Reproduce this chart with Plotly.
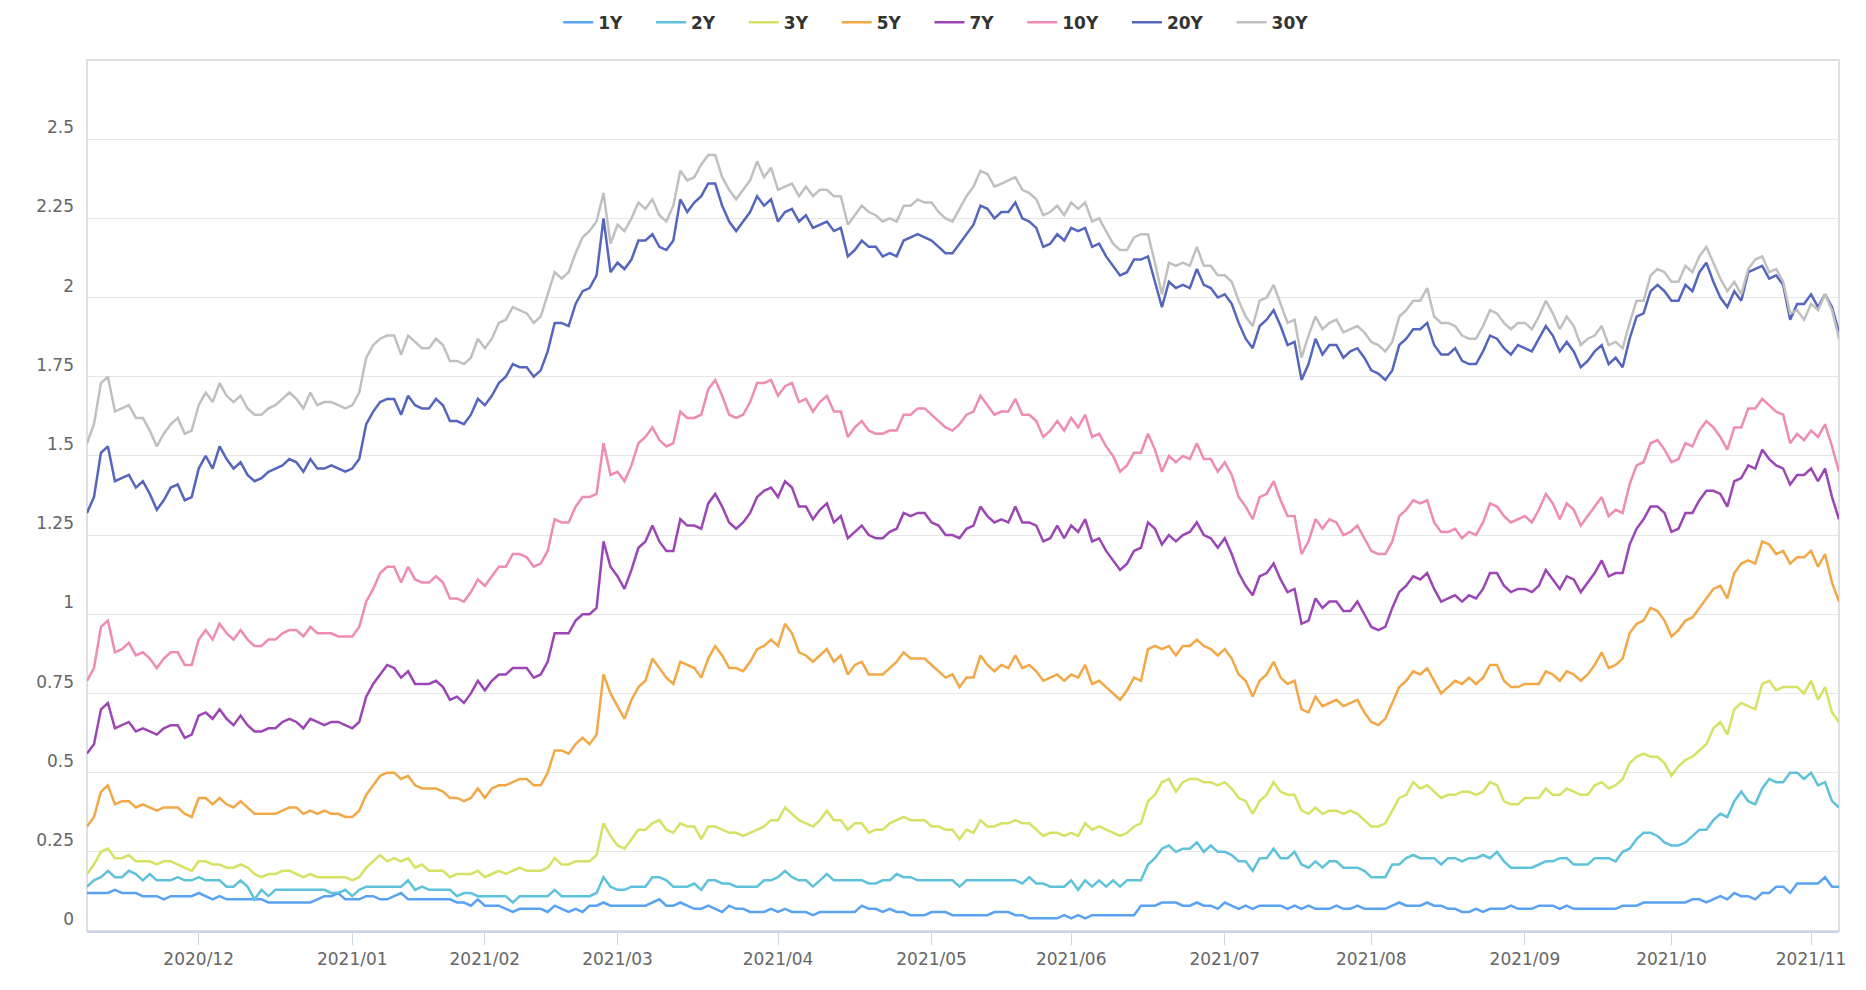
import pandas as pd
import plotly.graph_objects as go

# ---- categories: US trading days 2020-11-05 .. 2021-11-05 ----
start_date = "2020-11-05"
end_date = "2021-11-05"
holidays = ["2020-11-11", "2020-11-26", "2020-12-25", "2021-01-01", "2021-01-18",
            "2021-02-15", "2021-05-31", "2021-07-05", "2021-09-06", "2021-10-11"]
dates = [d.strftime("%Y-%m-%d") for d in pd.bdate_range(start_date, end_date)
         if d.strftime("%Y-%m-%d") not in holidays]

# ---- series values ----
y_1y = [
    0.12, 0.12, 0.12, 0.12, 0.13, 0.12, 0.12, 0.12, 0.11, 0.11,
    0.11, 0.10, 0.11, 0.11, 0.11, 0.11, 0.12, 0.11, 0.10, 0.11,
    0.10, 0.10, 0.10, 0.10, 0.10, 0.10, 0.09, 0.09, 0.09, 0.09,
    0.09, 0.09, 0.09, 0.10, 0.11, 0.11, 0.12, 0.10, 0.10, 0.10,
    0.11, 0.11, 0.10, 0.10, 0.11, 0.12, 0.10, 0.10, 0.10, 0.10,
    0.10, 0.10, 0.10, 0.09, 0.09, 0.08, 0.10, 0.08, 0.08, 0.08,
    0.07, 0.06, 0.07, 0.07, 0.07, 0.07, 0.06, 0.08, 0.07, 0.06,
    0.07, 0.06, 0.08, 0.08, 0.09, 0.08, 0.08, 0.08, 0.08, 0.08,
    0.08, 0.09, 0.10, 0.08, 0.08, 0.09, 0.08, 0.07, 0.07, 0.08,
    0.07, 0.06, 0.08, 0.07, 0.07, 0.06, 0.06, 0.06, 0.07, 0.06,
    0.07, 0.06, 0.06, 0.06, 0.05, 0.06, 0.06, 0.06, 0.06, 0.06,
    0.06, 0.08, 0.07, 0.07, 0.06, 0.07, 0.06, 0.06, 0.05, 0.05,
    0.05, 0.06, 0.06, 0.06, 0.05, 0.05, 0.05, 0.05, 0.05, 0.05,
    0.06, 0.06, 0.06, 0.05, 0.05, 0.04, 0.04, 0.04, 0.04, 0.04,
    0.05, 0.04, 0.05, 0.04, 0.05, 0.05, 0.05, 0.05, 0.05, 0.05,
    0.05, 0.08, 0.08, 0.08, 0.09, 0.09, 0.09, 0.08, 0.08, 0.09,
    0.08, 0.08, 0.07, 0.09, 0.08, 0.07, 0.08, 0.07, 0.08, 0.08,
    0.08, 0.08, 0.07, 0.08, 0.07, 0.08, 0.07, 0.07, 0.07, 0.08,
    0.07, 0.07, 0.08, 0.07, 0.07, 0.07, 0.07, 0.08, 0.09, 0.08,
    0.08, 0.08, 0.09, 0.08, 0.08, 0.07, 0.07, 0.06, 0.06, 0.07,
    0.06, 0.07, 0.07, 0.07, 0.08, 0.07, 0.07, 0.07, 0.08, 0.08,
    0.08, 0.07, 0.08, 0.07, 0.07, 0.07, 0.07, 0.07, 0.07, 0.07,
    0.08, 0.08, 0.08, 0.09, 0.09, 0.09, 0.09, 0.09, 0.09, 0.09,
    0.10, 0.10, 0.09, 0.10, 0.11, 0.10, 0.12, 0.11, 0.11, 0.10,
    0.12, 0.12, 0.14, 0.14, 0.12, 0.15, 0.15, 0.15, 0.15, 0.17,
    0.14, 0.14,
]
y_2y = [
    0.14, 0.16, 0.17, 0.19, 0.17, 0.17, 0.19, 0.18, 0.16, 0.18,
    0.16, 0.16, 0.16, 0.17, 0.16, 0.16, 0.17, 0.16, 0.16, 0.16,
    0.14, 0.14, 0.16, 0.14, 0.10, 0.13, 0.11, 0.13, 0.13, 0.13,
    0.13, 0.13, 0.13, 0.13, 0.13, 0.12, 0.12, 0.13, 0.11, 0.13,
    0.14, 0.14, 0.14, 0.14, 0.14, 0.14, 0.16, 0.13, 0.14, 0.13,
    0.13, 0.13, 0.13, 0.11, 0.12, 0.12, 0.11, 0.11, 0.11, 0.11,
    0.11, 0.09, 0.11, 0.11, 0.11, 0.11, 0.11, 0.13, 0.11, 0.11,
    0.11, 0.11, 0.11, 0.12, 0.17, 0.14, 0.13, 0.13, 0.14, 0.14,
    0.14, 0.17, 0.17, 0.16, 0.14, 0.14, 0.14, 0.15, 0.13, 0.16,
    0.16, 0.15, 0.15, 0.14, 0.14, 0.14, 0.14, 0.16, 0.16, 0.17,
    0.19, 0.17, 0.16, 0.16, 0.14, 0.16, 0.18, 0.16, 0.16, 0.16,
    0.16, 0.16, 0.15, 0.15, 0.16, 0.16, 0.18, 0.17, 0.17, 0.16,
    0.16, 0.16, 0.16, 0.16, 0.16, 0.14, 0.16, 0.16, 0.16, 0.16,
    0.16, 0.16, 0.16, 0.16, 0.15, 0.17, 0.15, 0.15, 0.14, 0.14,
    0.14, 0.16, 0.13, 0.16, 0.14, 0.16, 0.14, 0.16, 0.14, 0.16,
    0.16, 0.16, 0.21, 0.23, 0.26, 0.27, 0.25, 0.26, 0.26, 0.28,
    0.25, 0.27, 0.25, 0.25, 0.24, 0.22, 0.22, 0.19, 0.23, 0.23,
    0.26, 0.23, 0.23, 0.25, 0.21, 0.20, 0.22, 0.20, 0.22, 0.22,
    0.20, 0.20, 0.20, 0.19, 0.17, 0.17, 0.17, 0.21, 0.21, 0.23,
    0.24, 0.23, 0.23, 0.23, 0.21, 0.23, 0.23, 0.22, 0.23, 0.23,
    0.24, 0.23, 0.25, 0.22, 0.20, 0.20, 0.20, 0.20, 0.21, 0.22,
    0.22, 0.23, 0.23, 0.21, 0.21, 0.21, 0.23, 0.23, 0.23, 0.22,
    0.25, 0.26, 0.29, 0.31, 0.31, 0.30, 0.28, 0.27, 0.27, 0.28,
    0.30, 0.32, 0.32, 0.35, 0.37, 0.36, 0.41, 0.44, 0.41, 0.40,
    0.45, 0.48, 0.47, 0.47, 0.50, 0.50, 0.48, 0.50, 0.46, 0.47,
    0.41, 0.39,
]
y_3y = [
    0.18, 0.21, 0.25, 0.26, 0.23, 0.23, 0.24, 0.22, 0.22, 0.22,
    0.21, 0.22, 0.22, 0.21, 0.20, 0.19, 0.22, 0.22, 0.21, 0.21,
    0.20, 0.20, 0.21, 0.20, 0.18, 0.17, 0.18, 0.18, 0.19, 0.19,
    0.18, 0.17, 0.18, 0.17, 0.17, 0.17, 0.17, 0.17, 0.16, 0.17,
    0.20, 0.22, 0.24, 0.22, 0.23, 0.22, 0.23, 0.20, 0.21, 0.19,
    0.19, 0.19, 0.17, 0.18, 0.18, 0.18, 0.19, 0.17, 0.18, 0.19,
    0.18, 0.19, 0.20, 0.19, 0.19, 0.19, 0.20, 0.23, 0.21, 0.21,
    0.22, 0.22, 0.22, 0.24, 0.34, 0.30, 0.27, 0.26, 0.29, 0.32,
    0.32, 0.34, 0.35, 0.32, 0.31, 0.34, 0.33, 0.33, 0.29, 0.33,
    0.33, 0.32, 0.31, 0.31, 0.30, 0.31, 0.32, 0.33, 0.35, 0.35,
    0.39, 0.37, 0.35, 0.34, 0.33, 0.35, 0.38, 0.35, 0.35, 0.32,
    0.34, 0.34, 0.31, 0.32, 0.32, 0.34, 0.35, 0.36, 0.35, 0.35,
    0.35, 0.33, 0.33, 0.32, 0.32, 0.29, 0.32, 0.31, 0.35, 0.33,
    0.33, 0.34, 0.34, 0.35, 0.34, 0.34, 0.32, 0.30, 0.31, 0.31,
    0.30, 0.31, 0.30, 0.34, 0.32, 0.33, 0.32, 0.31, 0.30, 0.31,
    0.33, 0.34, 0.41, 0.43, 0.47, 0.48, 0.44, 0.47, 0.48, 0.48,
    0.47, 0.47, 0.46, 0.47, 0.45, 0.42, 0.41, 0.37, 0.41, 0.43,
    0.47, 0.44, 0.43, 0.43, 0.38, 0.37, 0.39, 0.37, 0.38, 0.38,
    0.37, 0.38, 0.37, 0.35, 0.33, 0.33, 0.34, 0.38, 0.42, 0.43,
    0.47, 0.45, 0.46, 0.44, 0.42, 0.43, 0.43, 0.44, 0.44, 0.43,
    0.44, 0.47, 0.46, 0.41, 0.40, 0.40, 0.42, 0.42, 0.42, 0.45,
    0.43, 0.43, 0.45, 0.44, 0.43, 0.43, 0.46, 0.47, 0.45, 0.46,
    0.48, 0.53, 0.55, 0.56, 0.55, 0.55, 0.53, 0.49, 0.52, 0.54,
    0.55, 0.57, 0.59, 0.64, 0.66, 0.62, 0.70, 0.72, 0.71, 0.70,
    0.78, 0.79, 0.76, 0.77, 0.77, 0.77, 0.75, 0.79, 0.73, 0.77,
    0.69, 0.66,
]
y_5y = [
    0.33, 0.36, 0.44, 0.46, 0.40, 0.41, 0.41, 0.39, 0.40, 0.39,
    0.38, 0.39, 0.39, 0.39, 0.37, 0.36, 0.42, 0.42, 0.40, 0.42,
    0.40, 0.39, 0.41, 0.39, 0.37, 0.37, 0.37, 0.37, 0.38, 0.39,
    0.39, 0.37, 0.38, 0.37, 0.38, 0.37, 0.37, 0.36, 0.36, 0.38,
    0.43, 0.46, 0.49, 0.50, 0.50, 0.48, 0.49, 0.46, 0.45, 0.45,
    0.45, 0.44, 0.42, 0.42, 0.41, 0.42, 0.45, 0.42, 0.45, 0.46,
    0.46, 0.47, 0.48, 0.48, 0.46, 0.46, 0.50, 0.57, 0.57, 0.56,
    0.59, 0.61, 0.59, 0.62, 0.81, 0.75, 0.71, 0.67, 0.73, 0.77,
    0.79, 0.86, 0.83, 0.80, 0.78, 0.85, 0.84, 0.83, 0.80, 0.86,
    0.90, 0.87, 0.83, 0.83, 0.82, 0.85, 0.89, 0.90, 0.92, 0.90,
    0.97, 0.94, 0.88, 0.87, 0.85, 0.87, 0.89, 0.85, 0.87, 0.81,
    0.84, 0.85, 0.81, 0.81, 0.81, 0.83, 0.85, 0.88, 0.86, 0.86,
    0.86, 0.84, 0.82, 0.80, 0.81, 0.77, 0.80, 0.80, 0.87, 0.84,
    0.82, 0.84, 0.83, 0.87, 0.83, 0.84, 0.82, 0.79, 0.80, 0.81,
    0.79, 0.81, 0.80, 0.84, 0.78, 0.79, 0.77, 0.75, 0.73, 0.76,
    0.80, 0.79, 0.89, 0.90, 0.89, 0.90, 0.87, 0.90, 0.90, 0.92,
    0.90, 0.89, 0.87, 0.89, 0.86, 0.81, 0.79, 0.74, 0.79, 0.81,
    0.85, 0.80, 0.78, 0.79, 0.70, 0.69, 0.74, 0.71, 0.72, 0.73,
    0.71, 0.72, 0.73, 0.69, 0.66, 0.65, 0.67, 0.72, 0.77, 0.79,
    0.82, 0.81, 0.83, 0.79, 0.75, 0.77, 0.79, 0.78, 0.80, 0.78,
    0.80, 0.84, 0.84, 0.79, 0.77, 0.77, 0.78, 0.78, 0.78, 0.82,
    0.81, 0.79, 0.82, 0.81, 0.79, 0.81, 0.84, 0.88, 0.83, 0.84,
    0.86, 0.94, 0.97, 0.98, 1.02, 1.01, 0.98, 0.93, 0.95, 0.98,
    0.99, 1.02, 1.05, 1.08, 1.09, 1.05, 1.13, 1.16, 1.17, 1.16,
    1.23, 1.22, 1.19, 1.20, 1.16, 1.18, 1.18, 1.20, 1.15, 1.19,
    1.10, 1.04,
]
y_7y = [
    0.56, 0.59, 0.70, 0.72, 0.64, 0.65, 0.66, 0.63, 0.64, 0.63,
    0.62, 0.64, 0.65, 0.65, 0.61, 0.62, 0.68, 0.69, 0.67, 0.70,
    0.67, 0.65, 0.68, 0.65, 0.63, 0.63, 0.64, 0.64, 0.66, 0.67,
    0.66, 0.64, 0.67, 0.66, 0.65, 0.66, 0.66, 0.65, 0.64, 0.66,
    0.74, 0.78, 0.81, 0.84, 0.83, 0.80, 0.82, 0.78, 0.78, 0.78,
    0.79, 0.77, 0.73, 0.74, 0.72, 0.75, 0.79, 0.76, 0.79, 0.81,
    0.81, 0.83, 0.83, 0.83, 0.80, 0.81, 0.85, 0.94, 0.94, 0.94,
    0.98, 1.00, 1.00, 1.02, 1.23, 1.15, 1.12, 1.08, 1.14, 1.21,
    1.23, 1.28, 1.23, 1.20, 1.20, 1.30, 1.28, 1.28, 1.27, 1.35,
    1.38, 1.34, 1.29, 1.27, 1.29, 1.32, 1.37, 1.39, 1.40, 1.37,
    1.42, 1.40, 1.34, 1.34, 1.30, 1.33, 1.35, 1.29, 1.31, 1.24,
    1.26, 1.28, 1.25, 1.24, 1.24, 1.26, 1.27, 1.32, 1.31, 1.32,
    1.32, 1.29, 1.28, 1.25, 1.25, 1.24, 1.27, 1.28, 1.34, 1.31,
    1.29, 1.30, 1.29, 1.34, 1.29, 1.29, 1.28, 1.23, 1.24, 1.28,
    1.24, 1.28, 1.26, 1.30, 1.23, 1.24, 1.20, 1.17, 1.14, 1.16,
    1.20, 1.21, 1.29, 1.27, 1.22, 1.25, 1.23, 1.25, 1.26, 1.29,
    1.25, 1.24, 1.21, 1.24, 1.19, 1.13, 1.09, 1.06, 1.12, 1.13,
    1.16, 1.11, 1.07, 1.08, 0.97, 0.98, 1.05, 1.02, 1.04, 1.04,
    1.01, 1.01, 1.04, 1.00, 0.96, 0.95, 0.96, 1.02, 1.07, 1.09,
    1.12, 1.11, 1.13, 1.08, 1.04, 1.05, 1.06, 1.04, 1.06, 1.05,
    1.08, 1.13, 1.13, 1.09, 1.07, 1.08, 1.08, 1.07, 1.09, 1.14,
    1.11, 1.08, 1.12, 1.11, 1.07, 1.10, 1.13, 1.17, 1.12, 1.13,
    1.13, 1.22, 1.27, 1.30, 1.34, 1.34, 1.32, 1.26, 1.27, 1.32,
    1.32, 1.36, 1.39, 1.39, 1.38, 1.34, 1.42, 1.43, 1.47, 1.46,
    1.52, 1.49, 1.47, 1.46, 1.41, 1.44, 1.44, 1.46, 1.42, 1.46,
    1.37, 1.30,
]
y_10y = [
    0.79, 0.83, 0.96, 0.98, 0.88, 0.89, 0.91, 0.87, 0.88, 0.86,
    0.83, 0.86, 0.88, 0.88, 0.84, 0.84, 0.92, 0.95, 0.92, 0.97,
    0.94, 0.92, 0.95, 0.92, 0.90, 0.90, 0.92, 0.92, 0.94, 0.95,
    0.95, 0.93, 0.96, 0.94, 0.94, 0.94, 0.93, 0.93, 0.93, 0.96,
    1.04, 1.08, 1.13, 1.15, 1.15, 1.10, 1.15, 1.11, 1.10, 1.10,
    1.12, 1.10, 1.05, 1.05, 1.04, 1.07, 1.11, 1.09, 1.12, 1.15,
    1.15, 1.19, 1.19, 1.18, 1.15, 1.16, 1.20, 1.30, 1.29, 1.29,
    1.34, 1.37, 1.37, 1.38, 1.54, 1.44, 1.45, 1.42, 1.47, 1.54,
    1.56, 1.59, 1.55, 1.53, 1.54, 1.64, 1.62, 1.62, 1.63, 1.71,
    1.74, 1.69, 1.63, 1.62, 1.63, 1.67, 1.73, 1.73, 1.74, 1.69,
    1.72, 1.73, 1.67, 1.68, 1.64, 1.67, 1.69, 1.64, 1.64, 1.56,
    1.59, 1.61, 1.58, 1.57, 1.57, 1.58, 1.58, 1.63, 1.63, 1.65,
    1.65, 1.63, 1.61, 1.59, 1.58, 1.60, 1.63, 1.64, 1.69, 1.66,
    1.63, 1.64, 1.64, 1.68, 1.63, 1.63, 1.61, 1.56, 1.58, 1.61,
    1.58, 1.62, 1.59, 1.63, 1.56, 1.57, 1.53, 1.50, 1.45, 1.47,
    1.51, 1.51, 1.57, 1.52, 1.45, 1.50, 1.48, 1.50, 1.49, 1.54,
    1.49, 1.49, 1.45, 1.48, 1.44, 1.37, 1.34, 1.30, 1.37, 1.38,
    1.42, 1.36, 1.31, 1.31, 1.19, 1.23, 1.30, 1.27, 1.30, 1.29,
    1.25, 1.26, 1.28, 1.24, 1.20, 1.19, 1.19, 1.23, 1.31, 1.33,
    1.36, 1.35, 1.36, 1.29, 1.26, 1.26, 1.27, 1.24, 1.26, 1.25,
    1.29, 1.35, 1.34, 1.31, 1.29, 1.30, 1.31, 1.29, 1.33, 1.38,
    1.35, 1.30, 1.35, 1.33, 1.28, 1.31, 1.34, 1.37, 1.31, 1.33,
    1.32, 1.41, 1.47, 1.48, 1.54, 1.55, 1.52, 1.48, 1.49, 1.54,
    1.53, 1.58, 1.61, 1.59, 1.56, 1.52, 1.59, 1.59, 1.65, 1.65,
    1.68, 1.66, 1.64, 1.63, 1.54, 1.57, 1.55, 1.58, 1.56, 1.60,
    1.53, 1.45,
]
y_20y = [
    1.32, 1.37, 1.51, 1.53, 1.42, 1.43, 1.44, 1.40, 1.42, 1.38,
    1.33, 1.36, 1.40, 1.41, 1.36, 1.37, 1.46, 1.50, 1.46, 1.53,
    1.49, 1.46, 1.48, 1.44, 1.42, 1.43, 1.45, 1.46, 1.47, 1.49,
    1.48, 1.45, 1.49, 1.46, 1.46, 1.47, 1.46, 1.45, 1.46, 1.49,
    1.60, 1.64, 1.67, 1.68, 1.68, 1.63, 1.69, 1.66, 1.65, 1.65,
    1.68, 1.66, 1.61, 1.61, 1.60, 1.63, 1.68, 1.66, 1.69, 1.73,
    1.75, 1.79, 1.78, 1.78, 1.75, 1.77, 1.83, 1.92, 1.92, 1.91,
    1.98, 2.02, 2.03, 2.07, 2.25, 2.08, 2.11, 2.09, 2.12, 2.18,
    2.18, 2.20, 2.16, 2.15, 2.18, 2.31, 2.27, 2.30, 2.32, 2.36,
    2.36, 2.29, 2.24, 2.21, 2.24, 2.27, 2.32, 2.29, 2.31, 2.24,
    2.27, 2.28, 2.24, 2.26, 2.22, 2.23, 2.24, 2.21, 2.22, 2.13,
    2.15, 2.18, 2.16, 2.16, 2.13, 2.14, 2.13, 2.18, 2.19, 2.20,
    2.19, 2.18, 2.16, 2.14, 2.14, 2.17, 2.20, 2.23, 2.29, 2.28,
    2.25, 2.27, 2.27, 2.30, 2.25, 2.24, 2.22, 2.16, 2.17, 2.20,
    2.18, 2.22, 2.21, 2.22, 2.16, 2.17, 2.13, 2.10, 2.07, 2.08,
    2.12, 2.12, 2.13, 2.05, 1.97, 2.05, 2.03, 2.04, 2.03, 2.09,
    2.04, 2.03, 2.00, 2.01, 1.98, 1.92, 1.87, 1.84, 1.91, 1.93,
    1.96, 1.91, 1.85, 1.86, 1.74, 1.79, 1.87, 1.82, 1.85, 1.85,
    1.81, 1.83, 1.84, 1.81, 1.77, 1.76, 1.74, 1.77, 1.85, 1.87,
    1.90, 1.90, 1.92, 1.85, 1.82, 1.82, 1.84, 1.80, 1.79, 1.79,
    1.83, 1.88, 1.87, 1.84, 1.82, 1.85, 1.84, 1.83, 1.87, 1.91,
    1.88, 1.83, 1.86, 1.83, 1.78, 1.80, 1.83, 1.85, 1.79, 1.81,
    1.78, 1.87, 1.94, 1.95, 2.02, 2.04, 2.02, 1.99, 1.99, 2.04,
    2.02, 2.08, 2.11, 2.05, 2.00, 1.97, 2.02, 1.99, 2.08, 2.09,
    2.10, 2.06, 2.07, 2.04, 1.93, 1.98, 1.98, 2.01, 1.97, 2.01,
    1.97, 1.89,
]
y_30y = [
    1.54, 1.60, 1.73, 1.75, 1.64, 1.65, 1.66, 1.62, 1.62, 1.58,
    1.53, 1.57, 1.60, 1.62, 1.57, 1.58, 1.66, 1.70, 1.67, 1.73,
    1.69, 1.67, 1.69, 1.65, 1.63, 1.63, 1.65, 1.66, 1.68, 1.70,
    1.68, 1.65, 1.70, 1.66, 1.67, 1.67, 1.66, 1.65, 1.66, 1.70,
    1.81, 1.85, 1.87, 1.88, 1.88, 1.82, 1.88, 1.86, 1.84, 1.84,
    1.87, 1.85, 1.80, 1.80, 1.79, 1.81, 1.87, 1.84, 1.87, 1.92,
    1.93, 1.97, 1.96, 1.95, 1.92, 1.94, 2.01, 2.08, 2.06, 2.08,
    2.14, 2.19, 2.21, 2.24, 2.33, 2.17, 2.23, 2.21, 2.25, 2.30,
    2.28, 2.31, 2.26, 2.24, 2.29, 2.40, 2.37, 2.38, 2.42, 2.45,
    2.45, 2.38, 2.34, 2.31, 2.34, 2.37, 2.43, 2.38, 2.41, 2.34,
    2.35, 2.36, 2.32, 2.35, 2.32, 2.34, 2.34, 2.32, 2.32, 2.23,
    2.26, 2.29, 2.27, 2.26, 2.24, 2.25, 2.24, 2.29, 2.29, 2.31,
    2.30, 2.30, 2.27, 2.25, 2.24, 2.28, 2.32, 2.35, 2.40, 2.39,
    2.35, 2.36, 2.37, 2.38, 2.34, 2.33, 2.31, 2.26, 2.27, 2.29,
    2.26, 2.30, 2.28, 2.30, 2.24, 2.25, 2.21, 2.17, 2.15, 2.15,
    2.19, 2.20, 2.20, 2.11, 2.01, 2.11, 2.10, 2.11, 2.10, 2.16,
    2.10, 2.10, 2.07, 2.07, 2.05, 1.99, 1.94, 1.91, 1.99, 2.00,
    2.04, 1.98, 1.92, 1.93, 1.81, 1.88, 1.94, 1.90, 1.92, 1.93,
    1.89, 1.90, 1.91, 1.89, 1.86, 1.85, 1.83, 1.86, 1.94, 1.96,
    1.99, 1.99, 2.03, 1.94, 1.92, 1.92, 1.91, 1.88, 1.87, 1.87,
    1.91, 1.96, 1.95, 1.92, 1.90, 1.92, 1.92, 1.90, 1.94, 1.99,
    1.95, 1.90, 1.94, 1.91, 1.85, 1.87, 1.88, 1.91, 1.85, 1.86,
    1.84, 1.92, 1.99, 1.99, 2.07, 2.09, 2.08, 2.05, 2.05, 2.10,
    2.08, 2.13, 2.16, 2.11, 2.06, 2.02, 2.05, 2.01, 2.09, 2.12,
    2.13, 2.08, 2.09, 2.05, 1.95, 1.96, 1.93, 1.98, 1.96, 2.01,
    1.96, 1.87,
]

series_names = ["1Y", "2Y", "3Y", "5Y", "7Y", "10Y", "20Y", "30Y"]
series_values = [y_1y, y_2y, y_3y, y_5y, y_7y, y_10y, y_20y, y_30y]
series_colors = ["#5aa2f2", "#5ec3da", "#d7e264", "#f3a847", "#9c46b6",
                 "#ef8cb3", "#5566bd", "#c0c0c0"]

# y-axis ticks
y_tickvals = [0, 0.25, 0.5, 0.75, 1, 1.25, 1.5, 1.75, 2, 2.25, 2.5]
y_ticktext = ["0", "0.25", "0.5", "0.75", "1", "1.25", "1.5", "1.75", "2", "2.25", "2.5"]

# x-axis ticks: first trading day of each month
month_first = {}
for d in dates:
    month_first.setdefault(d[:7], d)
x_months = [m for m in sorted(month_first) if m != "2020-11"]
x_tickvals = [month_first[m] for m in x_months]
x_ticktext = [m.replace("-", "/") for m in x_months]

NBSP = "\u00a0"
fig = go.Figure()
for name, vals, col in zip(series_names, series_values, series_colors):
    fig.add_trace(go.Scatter(
        x=dates, y=vals, name=name + NBSP * 4, mode="lines",
        line=dict(color=col, width=2.5),
        hovertemplate=name + ": %{y}<extra></extra>",
    ))

FONT = "DejaVu Sans"
# page has an 8px body margin; figure sized so the page is exactly 1866x990
FIG_W, FIG_H = 1850, 974
fig.update_layout(
    width=FIG_W, height=FIG_H,
    margin=dict(l=79, r=15, t=52, b=51),
    paper_bgcolor="white", plot_bgcolor="white",
    font=dict(family=FONT, size=17, color="#666666"),
    showlegend=True,
    legend=dict(
        orientation="h", xref="container", x=0.2974, xanchor="left",
        yref="container", y=0.985, yanchor="middle",
        font=dict(family=FONT, size=17, color="#333333", weight="bold"),
        bgcolor="rgba(0,0,0,0)",
    ),
    hovermode="x",
)
fig.update_xaxes(
    type="category", range=[0, len(dates) - 1],
    tickvals=x_tickvals, ticktext=x_ticktext,
    showgrid=False, zeroline=False,
    showline=True, linecolor="#ccd6eb", linewidth=2,
    ticks="outside", ticklen=12, tickcolor="#ccd6eb", tickwidth=1,
    tickfont=dict(family=FONT, size=17, color="#666666"),
)
fig.update_yaxes(
    range=[0, 2.75], tickvals=y_tickvals, ticktext=y_ticktext,
    showgrid=True, gridcolor="#e6e6e6", gridwidth=1,
    zeroline=False, showline=False,
    ticks="", ticklabelposition="outside top", ticklabelstandoff=12,
    tickfont=dict(family=FONT, size=17, color="#666666"),
)
fig.add_shape(type="rect", xref="paper", yref="paper", x0=0, y0=0, x1=1, y1=1,
              line=dict(color="#d3d6dc", width=1.5), layer="below")

fig.write_html("out.html")
